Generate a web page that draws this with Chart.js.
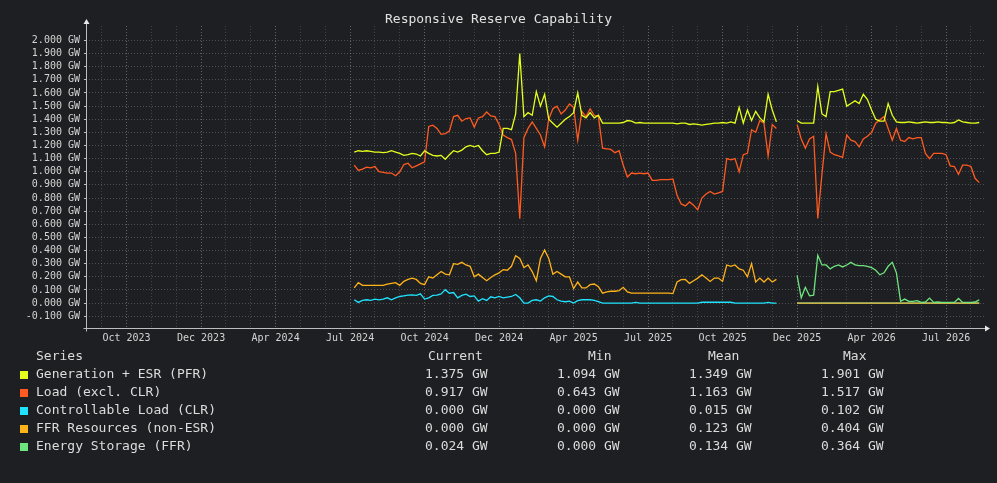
<!DOCTYPE html>
<html lang="en">
<head>
<meta charset="UTF-8">
<title>Responsive Reserve Capability</title>
<script src="https://cdn.jsdelivr.net/npm/chart.js@4.4.1/dist/chart.umd.min.js"></script>
<style>
    body { margin: 0; background: #1e1f22; font-family: "DejaVu Sans Mono", monospace; color: #dcdcdc; }
    #wrap { position: relative; width: 997px; height: 483px; overflow: hidden; }
    #title { position: absolute; left: 0; top: 10px; width: 997px; text-align: center; font-size: 13px; line-height: 18px; color: #e2e2e2; }
    #legend div { position: absolute; font-size: 13px; line-height: 18px; white-space: pre; }
    #legend .sw { width: 8px; height: 8px; }
    canvas { position: absolute; left: 0; top: 0; }
</style>
</head>
<body>
<div id="wrap">
    <canvas id="rrc" width="997" height="483"></canvas>
    <div id="title">Responsive Reserve Capability</div>
    <div id="legend"></div>
</div>
<script>
// x axis: one unit = one sample, a minor grid line every 6 samples, a label every 18
const xLabels = ['Oct 2023', 'Dec 2023', 'Apr 2024', 'Jul 2024', 'Oct 2024', 'Dec 2024',
                 'Apr 2025', 'Jul 2025', 'Oct 2025', 'Dec 2025', 'Apr 2026', 'Jul 2026'];
const yTicks = [-0.1, 0, 0.1, 0.2, 0.3, 0.4, 0.5, 0.6, 0.7, 0.8, 0.9, 1.0,
                1.1, 1.2, 1.3, 1.4, 1.5, 1.6, 1.7, 1.8, 1.9, 2.0];

const firstSample = 61;   // where the first four series begin
const esFirstSample = 168; // energy storage only reports after the gap

const genEsr = [
    1.15, 1.16, 1.155, 1.16, 1.155, 1.15, 1.15, 1.145, 1.15, 1.16,
    1.15, 1.14, 1.125, 1.13, 1.14, 1.135, 1.12, 1.16, 1.14, 1.125,
    1.12, 1.125, 1.095, 1.13, 1.16, 1.15, 1.165, 1.19, 1.2, 1.19,
    1.2, 1.16, 1.13, 1.14, 1.14, 1.15, 1.33, 1.33, 1.32, 1.44,
    1.901, 1.42, 1.45, 1.43, 1.61, 1.50, 1.59, 1.40, 1.37, 1.34,
    1.37, 1.40, 1.42, 1.45, 1.60, 1.43, 1.41, 1.45, 1.41, 1.43,
    1.37, 1.37, 1.37, 1.37, 1.37, 1.375, 1.39, 1.385, 1.37, 1.375,
    1.37, 1.37, 1.37, 1.37, 1.37, 1.37, 1.37, 1.37, 1.365, 1.37,
    1.37, 1.36, 1.365, 1.36, 1.355, 1.36, 1.365, 1.37, 1.37, 1.375,
    1.37, 1.38, 1.37, 1.49, 1.37, 1.47, 1.39, 1.46, 1.41, 1.38,
    1.59, 1.47, 1.38, null, null, null, null, 1.39, 1.37, 1.37,
    1.37, 1.37, 1.65, 1.44, 1.42, 1.61, 1.61, 1.62, 1.63, 1.50,
    1.52, 1.54, 1.52, 1.59, 1.55, 1.47, 1.40, 1.385, 1.385, 1.52,
    1.43, 1.38, 1.375, 1.375, 1.38, 1.375, 1.37, 1.375, 1.38, 1.375,
    1.375, 1.38, 1.375, 1.375, 1.37, 1.375, 1.395, 1.38, 1.375, 1.37,
    1.37, 1.375
];
const loadExClr = [
    1.05, 1.01, 1.02, 1.035, 1.03, 1.04, 1.0, 0.995, 0.99, 0.99,
    0.97, 1.0, 1.055, 1.065, 1.03, 1.045, 1.06, 1.075, 1.345, 1.355,
    1.33, 1.285, 1.29, 1.31, 1.42, 1.43, 1.385, 1.405, 1.41, 1.34,
    1.41, 1.42, 1.455, 1.425, 1.42, 1.36, 1.28, 1.26, 1.245, 1.14,
    0.643, 1.26, 1.33, 1.38, 1.33, 1.28, 1.19, 1.40, 1.48, 1.50,
    1.44, 1.47, 1.517, 1.49, 1.24, 1.46, 1.42, 1.48, 1.43, 1.42,
    1.18, 1.175, 1.17, 1.145, 1.16, 1.05, 0.96, 0.99, 0.985, 0.99,
    0.985, 0.99, 0.935, 0.935, 0.94, 0.94, 0.94, 0.945, 0.82, 0.755,
    0.74, 0.77, 0.745, 0.71, 0.80, 0.83, 0.85, 0.83, 0.84, 0.85,
    1.10, 1.09, 1.10, 1.0, 1.13, 1.14, 1.32, 1.30, 1.39, 1.37,
    1.12, 1.36, 1.33, null, null, null, null, 1.36, 1.25, 1.18,
    1.25, 1.27, 0.645, 0.98, 1.29, 1.15, 1.13, 1.12, 1.11, 1.28,
    1.24, 1.23, 1.19, 1.25, 1.27, 1.30, 1.37, 1.395, 1.42, 1.33,
    1.24, 1.33, 1.24, 1.23, 1.26, 1.25, 1.26, 1.26, 1.14, 1.10,
    1.14, 1.14, 1.14, 1.13, 1.045, 1.04, 0.98, 1.05, 1.05, 1.04,
    0.95, 0.917
];
const controllableLoad = [
    0.025, 0.005, 0.02, 0.025, 0.02, 0.03, 0.025, 0.03, 0.04, 0.025,
    0.04, 0.05, 0.055, 0.06, 0.063, 0.058, 0.07, 0.03, 0.04, 0.058,
    0.06, 0.07, 0.102, 0.075, 0.08, 0.04, 0.058, 0.068, 0.05, 0.055,
    0.015, 0.033, 0.02, 0.048, 0.04, 0.05, 0.04, 0.045, 0.05, 0.065,
    0.04, 0, 0, 0.02, 0.025, 0.015, 0.04, 0.055, 0.05, 0.025,
    0.015, 0.01, 0.015, 0, 0.018, 0.025, 0.025, 0.025, 0.02, 0.01,
    0, 0, 0, 0, 0, 0, 0, 0, 0.005, 0,
    0, 0, 0, 0, 0, 0, 0, 0, 0, 0,
    0, 0, 0, 0, 0.006, 0.006, 0.006, 0.006, 0.006, 0.006,
    0.006, 0.006, 0, 0, 0, 0, 0, 0, 0, 0,
    0.005, 0, 0, null, null, null, null, 0, 0, 0,
    0, 0, 0, 0, 0, 0, 0, 0, 0, 0,
    0, 0, 0, 0, 0, 0, 0, 0, 0, 0,
    0, 0, 0, 0, 0, 0, 0, 0, 0, 0,
    0, 0, 0, 0, 0, 0, 0, 0, 0, 0,
    0, 0
];
const ffrNonEsr = [
    0.115, 0.155, 0.135, 0.135, 0.135, 0.135, 0.135, 0.135, 0.145, 0.15,
    0.155, 0.135, 0.165, 0.18, 0.19, 0.18, 0.15, 0.14, 0.2, 0.19,
    0.215, 0.24, 0.22, 0.215, 0.30, 0.295, 0.31, 0.29, 0.28, 0.20,
    0.22, 0.195, 0.17, 0.195, 0.215, 0.23, 0.255, 0.25, 0.28, 0.36,
    0.34, 0.27, 0.29, 0.24, 0.17, 0.34, 0.404, 0.34, 0.22, 0.24,
    0.22, 0.20, 0.20, 0.11, 0.16, 0.115, 0.115, 0.14, 0.145, 0.125,
    0.075, 0.085, 0.09, 0.09, 0.095, 0.12, 0.085, 0.076, 0.076, 0.076,
    0.076, 0.076, 0.076, 0.076, 0.076, 0.076, 0.076, 0.072, 0.16, 0.178,
    0.18, 0.15, 0.17, 0.19, 0.215, 0.19, 0.165, 0.19, 0.19, 0.165,
    0.29, 0.28, 0.29, 0.26, 0.25, 0.20, 0.30, 0.16, 0.19, 0.16,
    0.19, 0.16, 0.18, null, null, null, null, 0, 0, 0,
    0, 0, 0, 0, 0, 0, 0, 0, 0, 0,
    0, 0, 0, 0, 0, 0, 0, 0, 0, 0,
    0, 0, 0, 0, 0, 0, 0, 0, 0, 0,
    0, 0, 0, 0, 0, 0, 0, 0, 0, 0,
    0, 0
];
const energyStorage = [
    0.21, 0.04, 0.12, 0.055, 0.06, 0.364, 0.29, 0.29, 0.26, 0.28,
    0.29, 0.275, 0.29, 0.31, 0.29, 0.285, 0.285, 0.28, 0.27, 0.25,
    0.215, 0.23, 0.28, 0.31, 0.23, 0.013, 0.03, 0.013, 0.013, 0.018,
    0.005, 0.008, 0.038, 0.005, 0.008, 0.005, 0.005, 0.005, 0.005, 0.035,
    0.005, 0.005, 0.005, 0.008, 0.024
];

const seriesNames = ['Generation + ESR (PFR)', 'Load (excl. CLR)', 'Controllable Load (CLR)',
                     'FFR Resources (non-ESR)', 'Energy Storage (FFR)'];
const seriesColors = ['#e4ff1c', '#ff5a1f', '#1fe3ff', '#ffb31a', '#6ee47e'];
const statCurrent = ['1.375 GW', '0.917 GW', '0.000 GW', '0.000 GW', '0.024 GW'];
const statMin     = ['1.094 GW', '0.643 GW', '0.000 GW', '0.000 GW', '0.000 GW'];
const statMean    = ['1.349 GW', '1.163 GW', '0.015 GW', '0.123 GW', '0.134 GW'];
const statMax     = ['1.901 GW', '1.517 GW', '0.102 GW', '0.404 GW', '0.364 GW'];

function toPoints(values, start) {
    return values.map((v, k) => ({ x: start + k, y: v }));
}

const seriesValues = [genEsr, loadExClr, controllableLoad, ffrNonEsr, energyStorage];
const seriesStarts = [firstSample, firstSample, firstSample, firstSample, esFirstSample];
const drawOrder = [1, 2, 5, 4, 3];

const datasets = seriesValues.map((vals, s) => ({
    label: seriesNames[s],
    data: toPoints(vals, seriesStarts[s]),
    borderColor: seriesColors[s],
    borderWidth: 1.3,
    pointRadius: 0,
    tension: 0,
    spanGaps: false,
    order: drawOrder[s]
}));

const isMajor = (v) => (v - 6) % 18 === 0;

// axis lines with the little arrow heads
const axisArrows = {
    id: 'axisArrows',
    afterDraw(chart) {
        const { ctx, chartArea: a } = chart;
        const x0 = Math.round(a.left) + 0.5;
        const y0 = Math.round(a.bottom) + 0.5;
        ctx.save();
        ctx.strokeStyle = '#bdbdbd';
        ctx.fillStyle = '#e8e8e8';
        ctx.lineWidth = 1;
        ctx.beginPath();
        ctx.moveTo(x0, y0 + 3);
        ctx.lineTo(x0, a.top - 3);
        ctx.moveTo(x0 - 3, y0);
        ctx.lineTo(a.right, y0);
        ctx.stroke();
        ctx.beginPath();
        ctx.moveTo(x0 - 3, a.top - 2);
        ctx.lineTo(x0 + 3, a.top - 2);
        ctx.lineTo(x0, a.top - 7);
        ctx.closePath();
        ctx.fill();
        ctx.beginPath();
        ctx.moveTo(a.right, y0 - 3);
        ctx.lineTo(a.right, y0 + 3);
        ctx.lineTo(a.right + 5, y0);
        ctx.closePath();
        ctx.fill();
        ctx.restore();
    }
};

Chart.defaults.font.family = "'DejaVu Sans Mono', monospace";
Chart.defaults.font.size = 10;
Chart.defaults.color = '#cfcfcf';

new Chart(document.getElementById('rrc').getContext('2d'), {
    type: 'line',
    data: { datasets: datasets },
    options: {
        responsive: false,
        animation: false,
        layout: { padding: { left: 0, right: 12, top: 26, bottom: 0 } },
        plugins: {
            legend: { display: false },
            title: { display: false },
            tooltip: { enabled: false }
        },
        scales: {
            x: {
                type: 'linear',
                min: -3.8,
                max: 213.4,
                afterFit: (s) => { s.height = 155; },
                afterBuildTicks: (s) => {
                    const t = [];
                    for (let v = 0; v <= 210; v += 6) t.push({ value: v });
                    s.ticks = t;
                },
                ticks: {
                    autoSkip: false,
                    maxRotation: 0,
                    padding: 4,
                    color: '#d4d4d4',
                    callback: (v) => isMajor(v) ? xLabels[(v - 6) / 18] : ''
                },
                grid: {
                    drawTicks: false,
                    lineWidth: 1,
                    color: (c) => isMajor(c.tick.value) ? 'rgba(160,160,160,0.55)' : 'rgba(140,140,140,0.32)'
                },
                border: { display: false, dash: [1, 2] }
            },
            y: {
                type: 'linear',
                min: -0.19,
                max: 2.11,
                afterFit: (s) => { s.width = 86; },
                afterBuildTicks: (s) => { s.ticks = yTicks.map(v => ({ value: v })); },
                ticks: {
                    autoSkip: false,
                    padding: 4,
                    color: '#d4d4d4',
                    callback: (v) => v.toFixed(3) + ' GW'
                },
                grid: {
                    drawTicks: true,
                    tickLength: 2,
                    tickColor: '#bdbdbd',
                    lineWidth: 1,
                    color: 'rgba(140,140,140,0.45)'
                },
                border: { display: false, dash: [1, 2] }
            }
        }
    },
    plugins: [axisArrows]
});

// legend table under the plot
const legend = document.getElementById('legend');
function put(text, left, top, color) {
    const d = document.createElement('div');
    d.textContent = text;
    d.style.left = left + 'px';
    d.style.top = top + 'px';
    if (color) d.style.color = color;
    legend.appendChild(d);
    return d;
}
put('Series', 36, 347);
put('Current', 428, 347);
put('Min', 588, 347);
put('Mean', 708, 347);
put('Max', 843, 347);
seriesNames.forEach((name, s) => {
    const top = 365 + s * 18;
    const sw = document.createElement('div');
    sw.className = 'sw';
    sw.style.left = '20px';
    sw.style.top = (top + 6) + 'px';
    sw.style.background = seriesColors[s];
    legend.appendChild(sw);
    put(name, 36, top);
    put(statCurrent[s], 425, top);
    put(statMin[s], 557, top);
    put(statMean[s], 689, top);
    put(statMax[s], 821, top);
});
</script>
</body>
</html>
